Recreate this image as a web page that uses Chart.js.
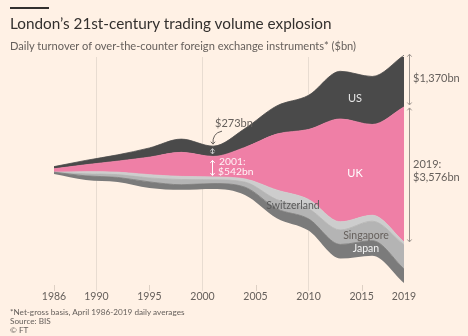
<!DOCTYPE html>
<html><head><meta charset="utf-8">
<script src="https://cdn.jsdelivr.net/npm/chart.js@4/dist/chart.umd.min.js"></script>
<style>
html,body{margin:0;padding:0;background:#fff1e5;}
#wrap{position:relative;width:468px;height:336px;background:#fff1e5;overflow:hidden;font-family:Lato,"Noto Sans",sans-serif;}
#c{position:absolute;left:0;top:0;}
.t{position:absolute;white-space:nowrap;line-height:1;}
.cy{transform:translateY(-50%);}
.cc{transform:translate(-50%,-50%);}
#bar{position:absolute;left:10px;top:7px;width:39px;height:2px;background:#33302e;}
#title{left:10px;top:15.5px;font-size:15.3px;color:#33302e;}
#sub{left:10px;top:39.5px;font-size:11.1px;color:#66605c;}
.foot{left:10px;font-size:8.2px;color:#66605c;}
.lab{font-size:11px;}
.ann{font-size:10.3px;}
</style></head>
<body><div id="wrap">
<canvas id="c" width="468" height="336"></canvas>
<div id="bar"></div>
<div class="t" id="title">London’s 21st-century trading volume explosion</div>
<div class="t" id="sub">Daily turnover of over-the-counter foreign exchange instruments* ($bn)</div>
<div class="t foot cy" style="top:312px">*Net-gross basis, April 1986-2019 daily averages</div>
<div class="t foot cy" style="top:321px">Source: BIS</div>
<div class="t foot cy" style="top:330px">© FT</div>
<div class="t lab cc" style="left:355px;top:97px;color:#e6e6e6">US</div>
<div class="t lab cc" style="left:355px;top:172px;color:#ffffff">UK</div>
<div class="t lab cc" style="left:293px;top:205px;color:#5a5a5a;font-size:10.5px">Switzerland</div>
<div class="t lab cc" style="left:366px;top:235px;color:#66605c;font-size:10.5px">Singapore</div>
<div class="t lab cc" style="left:366px;top:248px;color:#f4f4f4;font-size:10.5px">Japan</div>
<div class="t lab cy" style="left:215px;top:121.5px;color:#66605c">$273bn</div>
<div class="t ann cy" style="left:219px;top:160.5px;color:#fff4f7">2001:</div>
<div class="t ann cy" style="left:218px;top:170.5px;color:#fff4f7">$542bn</div>
<div class="t lab cy" style="left:413px;top:77px;color:#66605c">$1,370bn</div>
<div class="t lab cy" style="left:413px;top:163px;color:#66605c">2019:</div>
<div class="t lab cy" style="left:413px;top:176px;color:#66605c">$3,576bn</div>
</div>
<script>
// BIS triennial survey years
const years = [1986, 1989, 1992, 1995, 1998, 2001, 2004, 2007, 2010, 2013, 2016, 2019];
// Daily FX turnover, $bn
const uk = [90, 184, 291, 464, 637, 542, 835, 1483, 1854, 2726, 2406, 3576];
const us = [58, 115, 167, 244, 351, 273, 499, 745, 904, 1263, 1272, 1370];
const japan = [48, 111, 120, 161, 136, 147, 207, 250, 312, 374, 399, 376];
const singapore = [0, 55, 74, 105, 139, 101, 134, 242, 266, 383, 517, 640];
const switzerland = [0, 56, 66, 87, 82, 76, 85, 254, 249, 216, 156, 76];
// streamgraph offset (invisible bottom layer)
const offset = [3100, 2940, 2890, 2730, 2680, 2700, 2545, 1930, 1600, 860, 935, 210];
const tickYears = [1986, 1990, 1995, 2000, 2005, 2010, 2015, 2019];
const gridYears = [1990, 2000, 2010];
const shortTickYears = [1986, 1995, 2005, 2015];

const pts = arr => years.map((x, i) => ({x: x, y: arr[i]}));
function layer(label, arr, color, fill) {
  return {label: label, data: pts(arr), backgroundColor: color, borderColor: color,
    borderWidth: fill ? 0.8 : 0, fill: fill, pointRadius: 0, pointHoverRadius: 0,
    cubicInterpolationMode: 'monotone', clip: false};
}
function arrowHead(ctx, x, y, dir, s) {
  ctx.beginPath(); ctx.moveTo(x - s, y - dir * s * 1.1); ctx.lineTo(x, y); ctx.lineTo(x + s, y - dir * s * 1.1); ctx.stroke();
}
function dbl(ctx, x, y1, y2, c, s, lw) {
  ctx.strokeStyle = c; ctx.lineWidth = lw;
  ctx.beginPath(); ctx.moveTo(x, y1); ctx.lineTo(x, y2); ctx.stroke();
  arrowHead(ctx, x, y1, -1, s); arrowHead(ctx, x, y2, 1, s);
}
const annot = {
  id: 'annot',
  afterDatasetsDraw(chart) {
    const ctx = chart.ctx, xs = chart.scales.x, ca = chart.chartArea;
    const m = i => chart.getDatasetMeta(i).data;
    const L = years.length - 1, k = years.indexOf(2001);
    ctx.save();
    ctx.strokeStyle = '#ddd0c4'; ctx.lineWidth = 1;
    shortTickYears.forEach(v => {
      const x = Math.round(xs.getPixelForValue(v)) + 0.5;
      ctx.beginPath(); ctx.moveTo(x, ca.bottom - 6); ctx.lineTo(x, ca.bottom); ctx.stroke();
    });
    const bx = Math.round(xs.getPixelForValue(2019)) + 5.5;
    dbl(ctx, bx, m(5)[L].y - 1, m(4)[L].y - 2, '#9a928c', 2.2, 1);
    dbl(ctx, bx, m(4)[L].y + 1, m(3)[L].y, '#9a928c', 2.2, 1);
    const x1 = Math.round(xs.getPixelForValue(2001)) - 0.5;
    dbl(ctx, x1, m(5)[k].y + 2.5, m(4)[k].y - 2.5, '#c8c8c8', 2, 1);
    dbl(ctx, x1, m(4)[k].y + 4, m(3)[k].y - 1.5, '#ffffff', 2.2, 1);
    // curved pointer from $273bn
    ctx.strokeStyle = '#66605c'; ctx.lineWidth = 1;
    const ex = x1 + 0.5, ey = m(5)[k].y - 2;
    ctx.beginPath(); ctx.moveTo(ex + 9, ey - 13); ctx.quadraticCurveTo(ex - 1, ey - 11, ex, ey); ctx.stroke();
    arrowHead(ctx, ex, ey, 1, 2.2);
    ctx.restore();
  }
};

new Chart(document.getElementById('c'), {
  type: 'line',
  data: {datasets: [
    layer('offset', offset, 'rgba(0,0,0,0)', false),
    layer('Japan', japan, '#7b7b7b', '-1'),
    layer('Singapore', singapore, '#b4b4b4', '-1'),
    layer('Switzerland', switzerland, '#cdcdcd', '-1'),
    layer('UK', uk, '#ef7fa6', '-1'),
    layer('US', us, '#4a4a4a', '-1')
  ]},
  options: {
    responsive: false, animation: false, events: [],
    layout: {padding: {left: 54, right: 64, top: 57, bottom: 25}},
    plugins: {legend: {display: false}, tooltip: {enabled: false}},
    scales: {
      x: {type: 'linear', min: 1986, max: 2019,
        afterBuildTicks: s => { s.ticks = tickYears.map(v => ({value: v})); },
        afterFit: s => { s.height = 20; },
        border: {display: false},
        grid: {drawTicks: false, lineWidth: 1,
          color: c => (c.tick && gridYears.includes(c.tick.value)) ? '#e8dcd1' : 'rgba(0,0,0,0)'},
        ticks: {padding: -1, maxRotation: 0, autoSkip: false, color: '#66605c',
          font: {family: 'Lato', size: 10.5}, callback: v => String(v)}
      },
      y: {stacked: true, display: false, min: 0, max: 6201}
    }
  },
  plugins: [annot]
});
</script>
</body></html>
